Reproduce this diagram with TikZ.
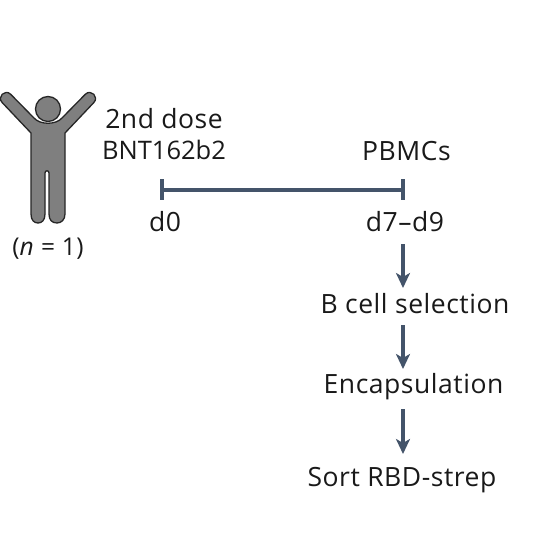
\documentclass[tikz,border=0pt]{standalone}
\usepackage{fontspec}
\setmainfont[LetterSpace=2]{Open Sans}
\usetikzlibrary{arrows.meta}
\definecolor{slateline}{HTML}{44546A}
\definecolor{persongray}{HTML}{7F7F7F}
\definecolor{personedge}{HTML}{262626}
\tikzset{
  lbl/.style={inner sep=0pt,text=black!90,font=\fontsize{26.5}{31}\selectfont,align=center},
  flow/.style={draw=slateline,line width=4.5pt,-{Stealth[length=15pt,width=14pt,inset=4pt]}},
  timeline/.style={draw=slateline,line width=4pt},
  tick/.style={draw=slateline,line width=3.7pt},
  person/.style={fill=persongray,draw=personedge,line width=1.3pt,line join=round}
}
\begin{document}
\begin{tikzpicture}[x=1pt,y=-1pt]
\useasboundingbox (0,0) rectangle (544,552);
% person
\path[person] (10.7,94.3) .. controls (5,88.6) and (-3.4,97) .. (2.3,102.7)
  -- (31,133) -- (31,214)
  .. controls (31,220) and (34,223) .. (38,223)
  .. controls (42,223) and (45,220) .. (45,214)
  -- (45,173) .. controls (45,170) and (49,170) .. (49,173)
  -- (49,214)
  .. controls (49,220) and (52,223) .. (57,223)
  .. controls (61,223) and (65,220) .. (65,214)
  -- (65,133) -- (93.7,102.7)
  .. controls (99.4,97) and (91,88.6) .. (85.3,94.3)
  -- (62,118)
  .. controls (56,125) and (40,125) .. (34,118)
  -- cycle;
\node[circle,minimum size=25pt,inner sep=0pt,person] (head) at (48,109) {};
\node[lbl,font=\fontsize{24.5}{31}\selectfont] (n) at (48,249) {(\emph{n} = 1)};
% labels
\node[lbl,text depth=0pt] (dose) at (164,134) {2nd dose\\{\fontsize{25.5}{31}\selectfont\addfontfeature{LetterSpace=0}BNT162b2}};
\node[lbl] (pbmc) at (406.5,151) {PBMCs};
\node[lbl] (d0) at (165,222) {d0};
\node[lbl] (d7) at (405,222) {d7–d9};
\node[lbl] (bcell) at (415,304) {B cell selection};
\node[lbl] (enc) at (413.5,387) {Encapsulation};
\node[lbl] (sort) at (402,480) {Sort RBD-strep};
% timeline
\coordinate (t0a) at (162,179);
\coordinate (t0b) at (162,200);
\coordinate (t0m) at (162,189.5);
\coordinate (t1a) at (403,179);
\coordinate (t1b) at (403,200);
\coordinate (t1m) at (403,189.5);
\draw[timeline] (t0m) -- (t1m);
\draw[tick] (t0a) -- (t0b);
\draw[tick] (t1a) -- (t1b);
% arrows
\coordinate (a1s) at (403,244);
\coordinate (a1e) at (403,288);
\coordinate (a2s) at (403,325);
\coordinate (a2e) at (403,369);
\coordinate (a3s) at (403,409);
\coordinate (a3e) at (403,454);
\draw[flow] (a1s) -- (a1e);
\draw[flow] (a2s) -- (a2e);
\draw[flow] (a3s) -- (a3e);
\end{tikzpicture}
\end{document}
